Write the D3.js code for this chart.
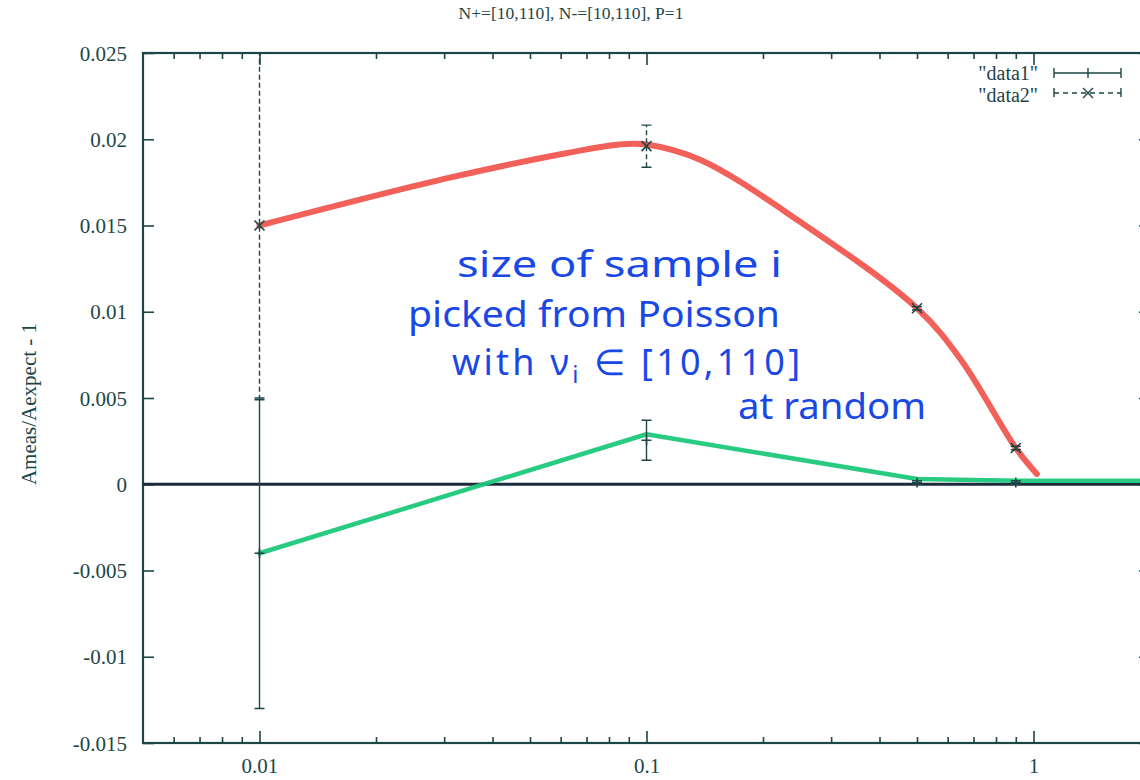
<!DOCTYPE html>
<html>
<head>
<meta charset="utf-8">
<script src="https://cdn.jsdelivr.net/npm/d3@7"></script>
<style>
  body { margin: 0; background: #fff; }
  svg { display: block; }
</style>
</head>
<body>
<div id="chart"></div>
<script>
'use strict';

// error bar series
const xVals = [0.01, 0.1, 0.5, 0.9];
const data1Y = [-0.004, 0.00255, 0.0001, 0.0001];
const data1Err = [0.009, 0.00116, 0.0001, 0.0001];
const data2Y = [0.015, 0.0196, 0.0102, 0.0021];
const data2Err = [0.0101, 0.00122, 0.0001, 0.0001];

// hand drawn traces on top of the plot
const redX = [0.01, 0.03, 0.056, 0.085, 0.1, 0.138, 0.25, 0.5, 0.65, 0.9, 1.02];
const redY = [0.015, 0.0177, 0.019, 0.0197, 0.0197, 0.0188, 0.0152, 0.0102, 0.0072, 0.0021, 0.0006];
const greenX = [0.01, 0.1, 0.5, 0.9, 2];
const greenY = [-0.004, 0.0029, 0.0003, 0.0002, 0.0002];
const zeroX = [0.005, 2];
const zeroY = [0, 0];

// axes
const yTicks = [-0.015, -0.01, -0.005, 0, 0.005, 0.01, 0.015, 0.02, 0.025];
const yTickLabels = ['-0.015', '-0.01', '-0.005', '0', '0.005', '0.01', '0.015', '0.02', '0.025'];
const xMajor = [0.01, 0.1, 1];
const xMajorLabels = ['0.01', '0.1', '1'];
const xMinor = [0.006, 0.007, 0.008, 0.009, 0.02, 0.03, 0.04, 0.05, 0.06, 0.07, 0.08, 0.09,
  0.2, 0.3, 0.4, 0.5, 0.6, 0.7, 0.8, 0.9, 2];

const title = 'N+=[10,110], N-=[10,110], P=1';
const yTitle = 'Ameas/Aexpect - 1';
const seriesNames = ['"data1"', '"data2"'];
const noteLines = ['size of sample i', 'picked from Poisson', 'with ν', 'at random'];

const dimensions = {
  width: 1140,
  height: 780,
  margin: { top: 53, bottom: 37, left: 143, right: -10 }
}
dimensions.ctrWidth = dimensions.width - dimensions.margin.left - dimensions.margin.right
dimensions.ctrHeight = dimensions.height - dimensions.margin.top - dimensions.margin.bottom

const ink = '#1d4646'
const serif = '"Liberation Serif", "DejaVu Serif", serif'

const svg = d3.select('#chart')
  .append('svg')
  .attr('width', dimensions.width)
  .attr('height', dimensions.height)

svg.append('defs').append('clipPath')
  .attr('id', 'plot_clip')
  .append('rect')
  .attr('width', dimensions.ctrWidth)
  .attr('height', dimensions.ctrHeight)

const ctr = svg.append('g')
  .attr('transform', `translate(${dimensions.margin.left}, ${dimensions.margin.top})`)

const xScale = d3.scaleLog()
  .domain([0.005, 2])
  .range([0, dimensions.ctrWidth])

const yScale = d3.scaleLinear()
  .domain([-0.015, 0.025])
  .range([dimensions.ctrHeight, 0])

// title
svg.append('text')
  .attr('x', 571)
  .attr('y', 19)
  .attr('text-anchor', 'middle')
  .style('font-family', serif)
  .style('font-size', '17.5px')
  .attr('fill', ink)
  .text(title)

// y title
svg.append('text')
  .attr('transform', `translate(36, ${dimensions.margin.top + dimensions.ctrHeight / 2 + 6}) rotate(-90)`)
  .attr('text-anchor', 'middle')
  .style('font-family', serif)
  .style('font-size', '21px')
  .attr('fill', ink)
  .text(yTitle)

// axes, gnuplot style: ticks point inwards, mirrored on top and right
const styleAxis = g => {
  g.select('.domain').remove()
  g.selectAll('line').attr('stroke', ink).attr('stroke-width', 1.6)
  g.selectAll('text')
    .attr('fill', ink)
    .style('font-family', serif)
    .style('font-size', '21px')
}

ctr.append('g')
  .call(d3.axisLeft(yScale).tickValues(yTicks).tickSize(-11).tickPadding(16)
    .tickFormat((d, i) => yTickLabels[i]))
  .call(styleAxis)
  .selectAll('text').attr('dy', '0.34em')

ctr.append('g')
  .attr('transform', `translate(${dimensions.ctrWidth}, 0)`)
  .call(d3.axisRight(yScale).tickValues(yTicks).tickSize(-11).tickFormat(''))
  .call(styleAxis)

ctr.append('g')
  .attr('transform', `translate(0, ${dimensions.ctrHeight})`)
  .call(d3.axisBottom(xScale).tickValues(xMajor).tickSize(-12).tickPadding(15)
    .tickFormat((d, i) => xMajorLabels[i]))
  .call(styleAxis)

ctr.append('g')
  .attr('transform', `translate(0, ${dimensions.ctrHeight})`)
  .call(d3.axisBottom(xScale).tickValues(xMinor).tickSize(-6).tickFormat(''))
  .call(styleAxis)

ctr.append('g')
  .call(d3.axisTop(xScale).tickValues(xMajor).tickSize(-12).tickFormat(''))
  .call(styleAxis)

ctr.append('g')
  .call(d3.axisTop(xScale).tickValues(xMinor).tickSize(-6).tickFormat(''))
  .call(styleAxis)

// frame
ctr.append('rect')
  .attr('width', dimensions.ctrWidth)
  .attr('height', dimensions.ctrHeight)
  .attr('fill', 'none')
  .attr('stroke', ink)
  .attr('stroke-width', 2.2)

const plot = ctr.append('g').attr('clip-path', 'url(#plot_clip)')

// error bars
const drawErrors = (ys, errs, dash, marker) => {
  const pts = xVals.map((x, i) => ({ x: x, y: ys[i], e: errs[i] }))
  const g = plot.append('g')
    .attr('stroke', ink)
    .attr('stroke-width', 1.4)
    .attr('fill', 'none')
  g.selectAll('line.bar')
    .data(pts)
    .join('line')
    .attr('x1', d => xScale(d.x))
    .attr('x2', d => xScale(d.x))
    .attr('y1', d => yScale(d.y - d.e))
    .attr('y2', d => yScale(d.y + d.e))
    .attr('stroke-dasharray', dash)
  g.selectAll('path.cap')
    .data(pts)
    .join('path')
    .attr('d', d => {
      const cx = xScale(d.x)
      const lo = yScale(d.y - d.e)
      const hi = yScale(d.y + d.e)
      return `M${cx - 5},${lo}H${cx + 5}M${cx - 5},${hi}H${cx + 5}`
    })
  g.selectAll('path.mark')
    .data(pts)
    .join('path')
    .attr('stroke-width', 1.6)
    .attr('d', d => {
      const cx = xScale(d.x)
      const cy = yScale(d.y)
      return marker === 'x'
        ? `M${cx - 5},${cy - 5}L${cx + 5},${cy + 5}M${cx - 5},${cy + 5}L${cx + 5},${cy - 5}`
        : `M${cx - 5},${cy}H${cx + 5}M${cx},${cy - 5}V${cy + 5}`
    })
}

// zero line drawn in dark pen
const line = d3.line()
  .x(d => xScale(d[0]))
  .y(d => yScale(d[1]))

plot.append('path')
  .datum(zeroX.map((x, i) => [x, zeroY[i]]))
  .attr('d', line)
  .attr('fill', 'none')
  .attr('stroke', '#1b2b3c')
  .attr('stroke-width', 3.2)

plot.append('path')
  .datum(greenX.map((x, i) => [x, greenY[i]]))
  .attr('d', line)
  .attr('fill', 'none')
  .attr('stroke', '#1ec87c')
  .attr('stroke-width', 4.5)
  .attr('stroke-linejoin', 'round')
  .attr('stroke-linecap', 'round')
  .attr('opacity', 0.95)

plot.append('path')
  .datum(redX.map((x, i) => [x, redY[i]]))
  .attr('d', line.curve(d3.curveCatmullRom))
  .attr('fill', 'none')
  .attr('stroke', '#f0544c')
  .attr('stroke-width', 6)
  .attr('stroke-linecap', 'round')
  .attr('opacity', 0.92)

drawErrors(data1Y, data1Err, null, '+')
drawErrors(data2Y, data2Err, '5,3', 'x')

// legend
const legend = svg.append('g')
  .attr('stroke', ink)
  .attr('stroke-width', 1.4)
  .attr('fill', 'none')
legend.append('path').attr('d', 'M1054,73H1121M1054,68V78M1121,68V78M1088,68V78')
legend.append('path').attr('d', 'M1054,93H1121').attr('stroke-dasharray', '5,4')
legend.append('path').attr('d', 'M1054,88V97M1121,88V97M1083,88L1093,98M1083,98L1093,88')
svg.selectAll('text.legend')
  .data(seriesNames)
  .join('text')
  .attr('x', 1038)
  .attr('y', (d, i) => 80 + i * 22)
  .attr('text-anchor', 'end')
  .style('font-family', serif)
  .style('font-size', '20px')
  .attr('fill', ink)
  .text(d => d)

// handwritten note
const note = svg.append('g')
  .attr('fill', '#1a48e6')
  .style('font-family', '"Comic Sans MS", "Noto Sans", sans-serif')
  .style('font-size', '36px')
note.append('text').attr('x', 457).attr('y', 277)
  .attr('textLength', 325).attr('lengthAdjust', 'spacingAndGlyphs').text(noteLines[0])
note.append('text').attr('x', 408).attr('y', 327)
  .attr('textLength', 372).attr('lengthAdjust', 'spacingAndGlyphs').text(noteLines[1])
const withLine = note.append('text').attr('x', 452).attr('y', 375)
  .attr('textLength', 348).attr('lengthAdjust', 'spacing')
withLine.append('tspan').text(noteLines[2])
withLine.append('tspan').attr('dy', 8).style('font-size', '24px').text('i')
withLine.append('tspan').attr('dy', -8).text(' ∈ [10,110]')
note.append('text').attr('x', 738).attr('y', 419)
  .attr('textLength', 188).attr('lengthAdjust', 'spacingAndGlyphs').text(noteLines[3])
</script>
</body>
</html>
